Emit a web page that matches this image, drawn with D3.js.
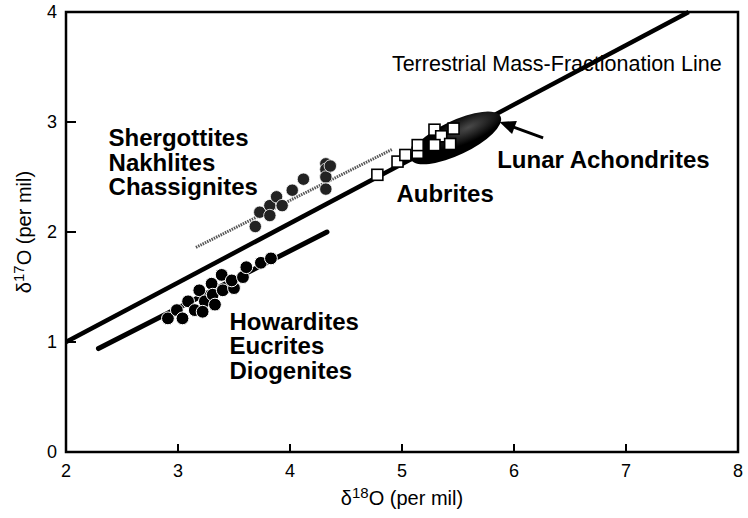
<!DOCTYPE html>
<html>
<head>
<meta charset="utf-8">
<script src="https://cdn.jsdelivr.net/npm/d3@7"></script>
<style>
  body { margin: 0; background: #fff; }
  svg { display: block; font-family: "Liberation Sans", Arial, Helvetica, sans-serif; }
  .tick-label { font-size: 18px; fill: #000; }
  .group-label { font-size: 24px; font-weight: bold; fill: #000; }
</style>
</head>
<body>
<div id="vis"></div>
<script>
// ---- data ----
var xTicks = [2, 3, 4, 5, 6, 7, 8];
var yTicks = [0, 1, 2, 3, 4];

// terrestrial mass-fractionation line
var tflX = [2.0, 7.56],
    tflY = [1.0, 4.0];

// HED trend line and SNC trend line
var hedLineX = [2.29, 4.33],
    hedLineY = [0.94, 2.0];
var sncLineX = [3.16, 4.91],
    sncLineY = [1.86, 2.75];

// SNC meteorites
var sncX = [3.69, 3.73, 3.82, 3.82, 3.88, 3.93, 4.02, 4.12, 4.32, 4.32, 4.32, 4.32, 4.36];
var sncY = [2.05, 2.18, 2.24, 2.15, 2.32, 2.24, 2.38, 2.48, 2.62, 2.57, 2.50, 2.39, 2.60];

// howardites, eucrites, diogenites
var hedX = [2.91, 2.99, 3.04, 3.09, 3.15, 3.19, 3.24, 3.22, 3.30, 3.31, 3.33, 3.39, 3.40, 3.50, 3.48, 3.58, 3.61, 3.74, 3.83];
var hedY = [1.215, 1.29, 1.215, 1.37, 1.29, 1.47, 1.37, 1.275, 1.53, 1.43, 1.34, 1.61, 1.47, 1.49, 1.56, 1.59, 1.68, 1.72, 1.76];

// aubrites
var aubX = [4.78, 4.96, 5.03, 5.14, 5.14, 5.29, 5.35, 5.29, 5.46, 5.43];
var aubY = [2.52, 2.64, 2.70, 2.72, 2.79, 2.93, 2.87, 2.79, 2.94, 2.80];

// lunar achondrite field: long axis end points and half width (per mil)
var lunarX = [5.08, 5.88],
    lunarY = [2.66, 3.05],
    lunarHalf = 0.155;

// arrow from label to lunar field
var arrowX = [6.26, 5.87],
    arrowY = [2.855, 3.0];

var labels = [
  { lines: ["Shergottites", "Nakhlites", "Chassignites"], x: 2.38, y: 2.78 },
  { lines: ["Howardites", "Eucrites", "Diogenites"], x: 3.46, y: 1.11 },
  { lines: ["Aubrites"], x: 4.95, y: 2.27 },
  { lines: ["Lunar Achondrites"], x: 5.85, y: 2.58 }
];

// ---- setup ----
var W = 748, H = 518;
var x = d3.scaleLinear().domain([2, 8]).range([66, 738]);
var y = d3.scaleLinear().domain([0, 4]).range([452, 12]);

var svg = d3.select("#vis").append("svg")
    .attr("width", W)
    .attr("height", H);

var defs = svg.append("defs");
var grad = defs.append("radialGradient")
    .attr("id", "lunarFill")
    .attr("cx", "0.66").attr("cy", "0.38").attr("r", "0.42");
grad.append("stop").attr("offset", "0%").attr("stop-color", "#4a4a4a");
grad.append("stop").attr("offset", "100%").attr("stop-color", "#000");

// frame
svg.append("rect")
    .attr("x", x(2)).attr("y", y(4))
    .attr("width", x(8) - x(2)).attr("height", y(0) - y(4))
    .attr("fill", "none").attr("stroke", "#000").attr("stroke-width", 2.5);

// ticks (inward)
svg.selectAll(".xtick").data(xTicks.slice(1, -1)).enter().append("line")
    .attr("x1", d => x(d)).attr("x2", d => x(d))
    .attr("y1", y(0)).attr("y2", y(0) - 8)
    .attr("stroke", "#000").attr("stroke-width", 2);
svg.selectAll(".ytick").data(yTicks.slice(1, -1)).enter().append("line")
    .attr("x1", x(2)).attr("x2", x(2) + 10)
    .attr("y1", d => y(d)).attr("y2", d => y(d))
    .attr("stroke", "#000").attr("stroke-width", 2);

svg.selectAll(".xlab").data(xTicks).enter().append("text")
    .attr("class", "tick-label")
    .attr("x", d => x(d)).attr("y", y(0) + 25)
    .attr("text-anchor", "middle")
    .text(d => d);
svg.selectAll(".ylab").data(yTicks).enter().append("text")
    .attr("class", "tick-label")
    .attr("x", x(2) - 9).attr("y", d => y(d) + 6)
    .attr("text-anchor", "end")
    .text(d => d);

// axis titles
var xt = svg.append("text")
    .attr("x", (x(2) + x(8)) / 2).attr("y", 505)
    .attr("text-anchor", "middle")
    .style("font-size", "20px");
xt.append("tspan").text("\u03b4");
xt.append("tspan").attr("dy", -7).style("font-size", "15px").text("18");
xt.append("tspan").attr("dy", 7).text("O (per mil)");

var yt = svg.append("text")
    .attr("transform", "translate(31," + ((y(0) + y(4)) / 2) + ") rotate(-90)")
    .attr("text-anchor", "middle")
    .style("font-size", "20px");
yt.append("tspan").text("\u03b4");
yt.append("tspan").attr("dy", -7).style("font-size", "15px").text("17");
yt.append("tspan").attr("dy", 7).text("O (per mil)");

// lines
var line = d3.line().x(d => x(d[0])).y(d => y(d[1]));
svg.append("path")
    .attr("d", line(d3.zip(sncLineX, sncLineY)))
    .attr("stroke", "#555").attr("stroke-width", 3)
    .attr("stroke-dasharray", "1.5 1").attr("fill", "none");
svg.append("path")
    .attr("d", line(d3.zip(tflX, tflY)))
    .attr("stroke", "#000").attr("stroke-width", 4.5).attr("fill", "none");
svg.append("path")
    .attr("d", line(d3.zip(hedLineX, hedLineY)))
    .attr("stroke", "#000").attr("stroke-width", 5)
    .attr("stroke-linecap", "round").attr("fill", "none");

svg.append("text")
    .attr("x", x(4.91)).attr("y", y(3.46))
    .style("font-size", "21.5px")
    .text("Terrestrial Mass-Fractionation Line");

// lunar field
var lx0 = x(lunarX[0]), ly0 = y(lunarY[0]), lx1 = x(lunarX[1]), ly1 = y(lunarY[1]);
var ang = Math.atan2(ly1 - ly0, lx1 - lx0) * 180 / Math.PI;
svg.append("ellipse")
    .attr("cx", 0).attr("cy", 0)
    .attr("rx", Math.hypot(lx1 - lx0, ly1 - ly0) / 2)
    .attr("ry", y(0) - y(lunarHalf))
    .attr("transform", "translate(" + ((lx0 + lx1) / 2) + "," + ((ly0 + ly1) / 2) + ") rotate(" + ang + ")")
    .attr("fill", "url(#lunarFill)");

// points
svg.selectAll(".snc").data(d3.zip(sncX, sncY)).enter().append("circle")
    .attr("cx", d => x(d[0])).attr("cy", d => y(d[1])).attr("r", 6.2)
    .attr("fill", "#222").attr("stroke", "#fff").attr("stroke-width", 0.8);
svg.selectAll(".hed").data(d3.zip(hedX, hedY)).enter().append("circle")
    .attr("cx", d => x(d[0])).attr("cy", d => y(d[1])).attr("r", 6.4)
    .attr("fill", "#000").attr("stroke", "#fff").attr("stroke-width", 1);
svg.selectAll(".aub").data(d3.zip(aubX, aubY)).enter().append("rect")
    .attr("x", d => x(d[0]) - 5.5).attr("y", d => y(d[1]) - 5.5)
    .attr("width", 11).attr("height", 11)
    .attr("fill", "#fff").attr("stroke", "#000").attr("stroke-width", 1.6);

// arrow to lunar field
var ax0 = x(arrowX[0]), ay0 = y(arrowY[0]), ax1 = x(arrowX[1]), ay1 = y(arrowY[1]);
var aa = Math.atan2(ay1 - ay0, ax1 - ax0);
svg.append("line")
    .attr("x1", ax0).attr("y1", ay0)
    .attr("x2", ax1 - 10 * Math.cos(aa)).attr("y2", ay1 - 10 * Math.sin(aa))
    .attr("stroke", "#000").attr("stroke-width", 3);
svg.append("path")
    .attr("d", d3.line()([
      [ax1, ay1],
      [ax1 - 16 * Math.cos(aa) + 7 * Math.sin(aa), ay1 - 16 * Math.sin(aa) - 7 * Math.cos(aa)],
      [ax1 - 16 * Math.cos(aa) - 7 * Math.sin(aa), ay1 - 16 * Math.sin(aa) + 7 * Math.cos(aa)]
    ]) + "Z")
    .attr("fill", "#000");

// group labels
labels.forEach(function(l) {
  var t = svg.append("text")
      .attr("class", "group-label")
      .attr("x", x(l.x)).attr("y", y(l.y));
  t.selectAll("tspan").data(l.lines).enter().append("tspan")
      .attr("x", x(l.x))
      .attr("dy", (d, i) => i === 0 ? 0 : 24.5)
      .text(d => d);
});
</script>
</body>
</html>
